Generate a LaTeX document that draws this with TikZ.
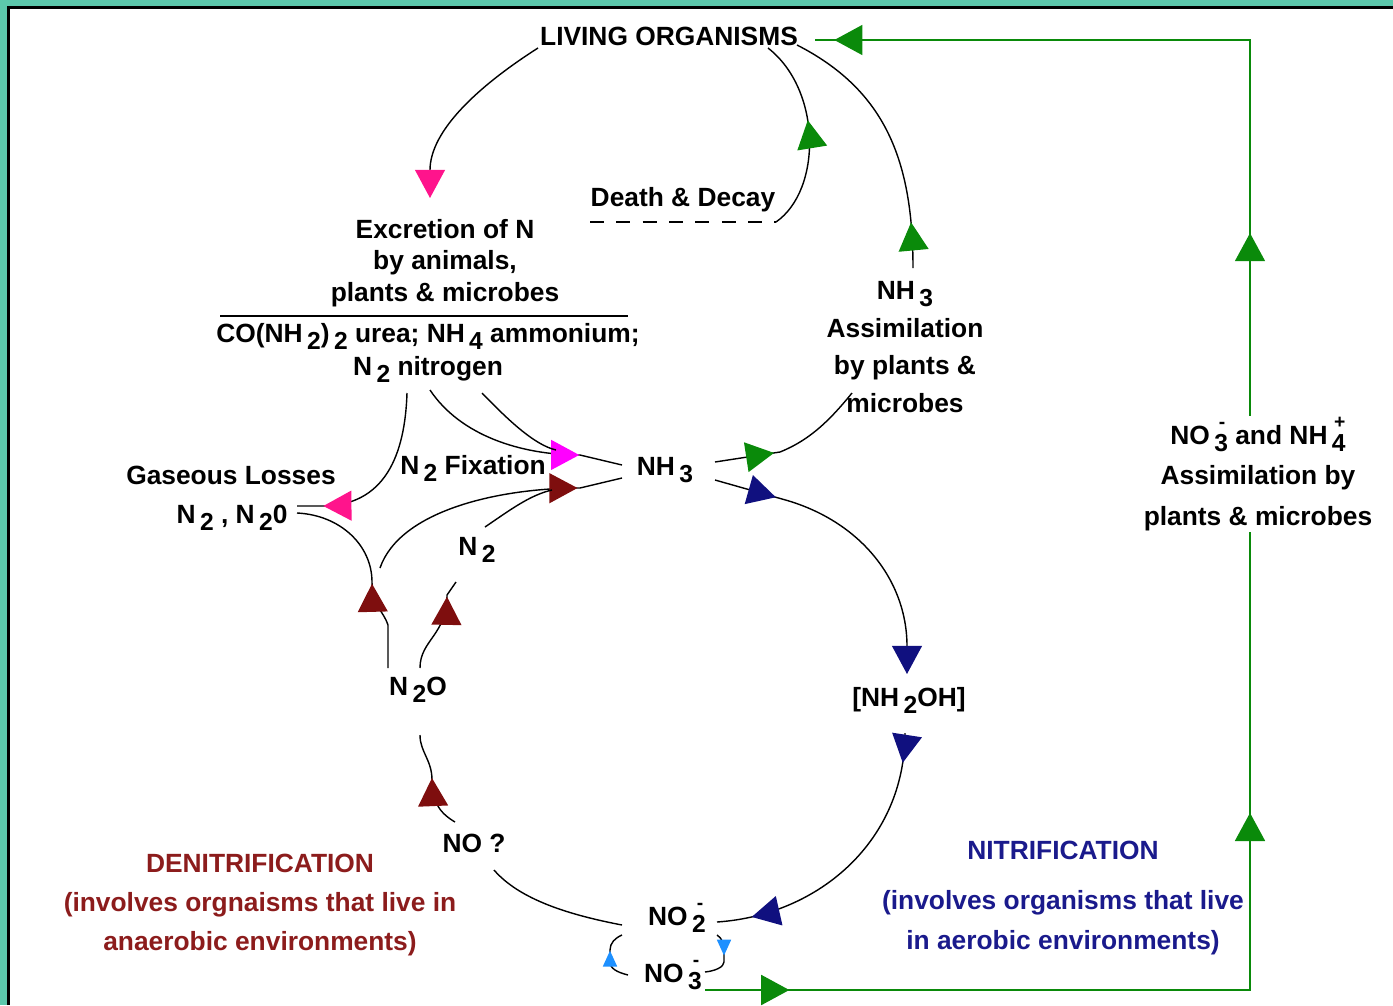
\documentclass[tikz,border=0pt]{standalone}
\usepackage{fontspec}
\setmainfont{Liberation Sans}
\usetikzlibrary{arrows.meta,decorations.markings}

\definecolor{frame}{HTML}{5CC8AC}
\definecolor{grn}{HTML}{0A8A0A}
\definecolor{navyc}{HTML}{10107F}
\definecolor{dkred}{HTML}{7E0E0E}
\definecolor{dentext}{HTML}{8C1C1C}
\definecolor{nittext}{HTML}{1A1A8C}
\definecolor{pinkc}{HTML}{FF148C}
\definecolor{magc}{HTML}{FF00FF}
\definecolor{ltblue}{HTML}{1E90FF}

% lowered digit, and lowered digit with a charge above it
\newcommand\dn[1]{\,\raisebox{-0.5ex}{\fontsize{14}{14}\selectfont #1}}
\newcommand\dnup[2]{\,\raisebox{-0.5ex}{\fontsize{14}{14}\selectfont #1}\llap{\raisebox{1.1ex}{\fontsize{11}{11}\selectfont\makebox[0.6em][c]{#2}}}}

\begin{document}
\begin{tikzpicture}[x=0.02cm,y=-0.02cm,
  lbl/.style={font=\fontsize{15}{18}\selectfont\bfseries, inner sep=1pt},
  conn/.style={line width=0.8pt},
  grnline/.style={draw=grn, line width=1.3pt},
  mk/.style 2 args={postaction={decorate,decoration={markings,
      mark=at position #1 with {\arrow{Triangle[length=16pt,width=17pt,color=#2]}}}}},
  smk/.style 2 args={postaction={decorate,decoration={markings,
      mark=at position #1 with {\arrow{Triangle[length=9pt,width=8pt,color=#2]}}}}}]
\useasboundingbox (0,0) rectangle (1393,1005);
% frame
\fill[frame] (0,0) rectangle (1393,6);
\fill[frame] (0,0) rectangle (7,1005);
\draw[line width=1.7pt] (8.5,1005) -- (8.5,7.5) -- (1393,7.5);

% labels
\node[lbl] (lo) at (669,36) {LIVING ORGANISMS};
\node[lbl] (dd) at (683,200) {Death \& Decay};
\node[lbl,align=center] (exc) at (445,263) {Excretion of N\\by animals,\\plants \& microbes};
\node[lbl,align=center,font=\fontsize{15}{19}\selectfont\bfseries] (forms) at (428,353) {CO(NH\dn{2})\dn{2} urea; NH\dn{4} ammonium;\\N\dn{2} nitrogen};
\node[lbl,align=center,font=\fontsize{15}{21.5}\selectfont\bfseries] (asm) at (905,347) {NH\dn{3}\\Assimilation\\by plants \&\\microbes};
\node[lbl] (gl) at (231,475) {Gaseous Losses};
\node[lbl] (gas) at (232,518) {N\dn{2} , N\dn{2}0};
\node[lbl] (fix) at (473,468) {N\dn{2} Fixation};
\node[lbl] (nh3) at (665,470) {NH\dn{3}};
\node[lbl] (n2) at (477,550) {N\dn{2}};
\node[lbl] (n2o) at (418,690) {N\dn{2}O};
\node[lbl] (nh2oh) at (909,700) {[NH\dn{2}OH]};
\node[lbl] (no) at (474,843) {NO ?};
\node[lbl] (no2) at (677,918) {NO\dnup{2}{-}};
\node[lbl] (no3) at (673,975) {NO\dnup{3}{-}};
\node[lbl,text=dentext,align=center,font=\fontsize{15}{22.4}\selectfont\bfseries] (den) at (260,905)
  {DENITRIFICATION\\(involves orgnaisms that live in\\anaerobic environments)};
\node[lbl,text=nittext,align=center,font=\fontsize{15}{22.4}\selectfont\bfseries] (nit) at (1063,898)
  {NITRIFICATION\\[6pt](involves organisms that live\\in aerobic environments)};
\draw[conn] (220,316) -- (628,316);

% end points of the connectors
\coordinate (loA) at (538,48);
\coordinate (loB) at (768,48);
\coordinate (loC) at (797,45);
\coordinate (loG) at (815,40);
\coordinate (excIn) at (430,198);
\coordinate (ddL) at (590,222);
\coordinate (ddR) at (776,222);
\coordinate (asmN) at (913,268);
\coordinate (asmIn) at (852,393);
\coordinate (nh3E1) at (715,462);
\coordinate (nh3E2) at (715,480);
\coordinate (nh3G) at (780,452);
\coordinate (nh3B) at (782,499);
\coordinate (nh3W1) at (622,465);
\coordinate (nh3W2) at (622,478);
\coordinate (nh2ohN) at (907,674);
\coordinate (nh2ohS) at (905,733);
\coordinate (no2E1) at (717,922);
\coordinate (no2E2) at (717,935);
\coordinate (no2W1) at (622,925);
\coordinate (no2W2) at (622,935);
\coordinate (no3E) at (705,972);
\coordinate (no3W) at (628,975);
\coordinate (no3G) at (705,990);
\coordinate (rA) at (724,950);
\coordinate (rB) at (724,962);
\coordinate (lA) at (610,962);
\coordinate (lB) at (610,950);
\coordinate (noS) at (494,870);
\coordinate (noN) at (455,822);
\coordinate (noA) at (432,780);
\coordinate (n2oS) at (420,735);
\coordinate (n2oNE) at (420,668);
\coordinate (n2oNW) at (388,668);
\coordinate (n2oV) at (388,625);
\coordinate (n2oA) at (372,582);
\coordinate (n2A) at (447,595);
\coordinate (n2SW) at (456,582);
\coordinate (n2NE) at (485,527);
\coordinate (gasP) at (322,506);
\coordinate (gasE1) at (297,506);
\coordinate (gasE2) at (297,513);
\coordinate (brA) at (380,568);
\coordinate (fixA) at (580,488);
\coordinate (fixB) at (580,455);
\coordinate (fixR1) at (552,490);
\coordinate (fixR2) at (556,450);
\coordinate (frmA) at (407,393);
\coordinate (frmB) at (430,390);
\coordinate (frmC) at (482,393);
\coordinate (cBR) at (1250,990);
\coordinate (cTR) at (1250,40);

% living organisms, excretion, decay
\path[draw,conn,-{Triangle[length=16pt,width=17pt,color=pinkc]}] (loA) .. controls (480,85) and (430,130) .. (excIn);
\path[draw,conn,dash pattern=on 8pt off 7pt] (ddL) -- (ddR);
\path[draw,conn,mk={0.57}{grn}] (ddR) .. controls (822,190) and (822,90) .. (loB);
\path[draw,conn,mk={26pt}{grn}] (asmN) .. controls (913,160) and (885,90) .. (loC);
\path[draw,conn,mk={34pt}{grn}] (nh3E1) -- (nh3G) .. controls (810,440) and (830,420) .. (asmIn);

% nitrification
\path[draw,conn,mk={36pt}{navyc},-{Triangle[length=16pt,width=17pt,color=navyc]}] (nh3E2) -- (nh3B) .. controls (860,520) and (907,580) .. (nh2ohN);
\path[draw,conn,mk={17pt}{navyc},mk={-20pt}{navyc}] (nh2ohS) .. controls (905,840) and (820,915) .. (no2E1);
\path[draw,conn,smk={13pt}{ltblue}] (no2E2) .. controls (722,938) and (724,944) .. (rA) -- (rB) .. controls (724,967) and (715,971) .. (no3E);
\path[draw,conn,smk={20pt}{ltblue}] (no3W) .. controls (616,972) and (610,968) .. (lA) -- (lB) .. controls (610,943) and (615,938) .. (no2W2);

% denitrification
\path[draw,conn] (no2W1) .. controls (570,915) and (520,900) .. (noS);
\path[draw,conn,mk={30pt}{dkred}] (noN) .. controls (438,812) and (432,800) .. (noA) .. controls (432,760) and (420,752) .. (n2oS);
\path[draw,conn,mk={-10pt}{dkred}] (n2oNE) .. controls (420,640) and (447,635) .. (n2A) -- (n2SW);
\path[draw,conn,mk={50pt}{dkred}] (n2oNW) -- (n2oV) .. controls (384,612) and (372,605) .. (n2oA) .. controls (372,545) and (340,515) .. (gasE2);
\path[draw,conn,mk={-26pt}{dkred}] (brA) .. controls (400,510) and (500,488) .. (fixA) -- (nh3W2);
\path[draw,conn] (n2NE) .. controls (510,510) and (530,495) .. (fixR1);

% gaseous losses and fixation
\path[draw,conn,mk={-15pt}{pinkc}] (frmA) .. controls (405,455) and (385,506) .. (gasP) -- (gasE1);
\path[draw,conn,mk={-25pt}{magc}] (frmB) .. controls (460,435) and (520,455) .. (fixB) -- (nh3W1);
\path[draw,conn] (frmC) .. controls (510,422) and (535,445) .. (fixR2);

% assimilation loop
\path[grnline,mk={48pt}{grn},mk={411pt}{grn},mk={741pt}{grn},mk={-11pt}{grn}]
  (no3G) -- (cBR) -- (cTR) -- (loG);
\node[lbl,align=center,fill=white,font=\fontsize{15}{23}\selectfont\bfseries] (nn) at (1258,474)
  {NO\dnup{3}{-} and NH\dnup{4}{+}\\Assimilation by\\plants \& microbes};
\end{tikzpicture}
\end{document}
